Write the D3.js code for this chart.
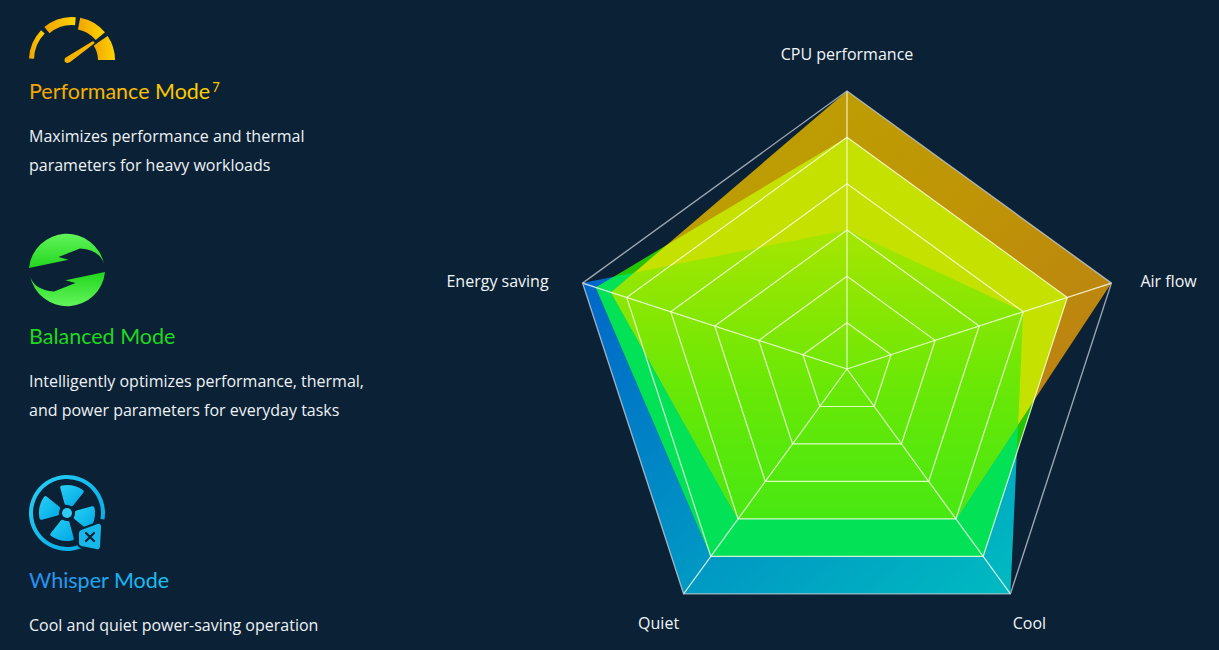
<!DOCTYPE html>
<html>
<head>
<meta charset="utf-8">
<script src="https://cdn.jsdelivr.net/npm/d3@7"></script>
<style>
  html, body { margin: 0; padding: 0; background: #0b2135; }
  svg { display: block; }
</style>
</head>
<body>
<div id="chart"></div>
<script>
// Radar axes, clockwise from the top
const AXES = ['CPU performance', 'Air flow', 'Cool', 'Quiet', 'Energy saving'];
// Grid levels (6 rings)
const LEVELS = [1, 2, 3, 4, 5, 6];
const MAX_LEVEL = 6;

// Series values, in grid levels (0..6), same order as AXES
const PERFORMANCE = [6, 6, 4, 4, 5.35];
const BALANCED    = [5, 5, 5, 5, 5.7];
const WHISPER     = [3, 4, 6, 6, 6];

// Left-hand mode descriptions
const MODE_NAMES = ['Performance Mode', 'Balanced Mode', 'Whisper Mode'];
const MODE_SUPS  = ['7', '', ''];
const MODE_LINES = [
  ['Maximizes performance and thermal', 'parameters for heavy workloads'],
  ['Intelligently optimizes performance, thermal,', 'and power parameters for everyday tasks'],
  ['Cool and quiet power-saving operation'],
];

const W = 1219, H = 650;
const FONT = '"Open Sans", "Noto Sans", sans-serif';
const TITLE_FONT = 'Lato, "Open Sans", sans-serif';

const svg = d3.select('#chart').append('svg')
  .attr('width', W).attr('height', H)
  .attr('viewBox', `0 0 ${W} ${H}`);

svg.append('rect').attr('width', W).attr('height', H).attr('fill', '#0b2135');

const defs = svg.append('defs');

function linearGrad(id, stops, x1, y1, x2, y2) {
  const gr = defs.append('linearGradient').attr('id', id)
    .attr('x1', x1).attr('y1', y1).attr('x2', x2).attr('y2', y2);
  stops.forEach(([o, c]) => gr.append('stop').attr('offset', o).attr('stop-color', c));
}

linearGrad('grad-whisper', [[0, '#005fc9'], [0.55, '#0094c4'], [1, '#00bcc0']], 0, 0, 1, 1);
linearGrad('grad-perf', [[0, '#bca400'], [0.5, '#bf9406'], [1, '#b9761a']], 0, 0, 1, 1);
linearGrad('grad-lime', [[0, '#c2e200'], [0.35, '#a2e600'], [0.7, '#68e806'], [1, '#48e812']], 0, 0, 0, 1);
linearGrad('grad-gold-text', [[0, '#f0a400'], [1, '#ffd400']], 0, 0, 1, 0);
linearGrad('grad-green-icon', [[0, '#62f45a'], [1, '#22d61e']], 0, 0, 0, 1);
linearGrad('grad-blue-text', [[0, '#2b8cf0'], [1, '#14c4f2']], 0, 0, 1, 0);
linearGrad('grad-cyan-icon', [[0, '#28d0f4'], [1, '#00a6e6']], 0, 0, 1, 1);

/* ================================================================== */
/*  Radar chart                                                        */
/* ================================================================== */

const cx = 847, cy = 369, R = 278;

const r = d3.scaleLinear().domain([0, MAX_LEVEL]).range([0, R]);
const angle = d3.scaleLinear().domain([0, AXES.length]).range([0, 2 * Math.PI]);

const radial = d3.lineRadial()
  .angle((_, i) => angle(i))
  .radius(d => r(d))
  .curve(d3.curveLinearClosed);

const perfPath = radial(PERFORMANCE);
const balPath  = radial(BALANCED);
const whisPath = radial(WHISPER);

defs.append('clipPath').attr('id', 'clip-balanced').append('path').attr('d', balPath);
defs.append('clipPath').attr('id', 'clip-whisper').append('path').attr('d', whisPath);

const g = svg.append('g').attr('transform', `translate(${cx},${cy})`);

// Whisper (bottom layer)
g.append('path').attr('d', whisPath).attr('fill', 'url(#grad-whisper)');

// Balanced, and where it overlays Whisper
g.append('path').attr('d', balPath).attr('fill', '#24c402');
g.append('g').attr('clip-path', 'url(#clip-whisper)')
  .append('path').attr('d', balPath).attr('fill', '#03e257');

// Performance, and its overlaps
g.append('path').attr('d', perfPath).attr('fill', 'url(#grad-perf)');
const overBal = g.append('g').attr('clip-path', 'url(#clip-balanced)');
overBal.append('path').attr('d', perfPath).attr('fill', '#c4e100');
overBal.append('g').attr('clip-path', 'url(#clip-whisper)')
  .append('path').attr('d', perfPath).attr('fill', 'url(#grad-lime)');

// Inner grid rings
LEVELS.filter(l => l < MAX_LEVEL).forEach(l => {
  g.append('path')
    .attr('d', radial(AXES.map(() => l)))
    .attr('fill', 'none')
    .attr('stroke', 'rgba(250,255,235,0.82)')
    .attr('stroke-width', 1.2);
});

// Spokes
AXES.forEach((_, i) => {
  const [x, y] = d3.pointRadial(angle(i), r(MAX_LEVEL));
  g.append('line')
    .attr('x1', 0).attr('y1', 0).attr('x2', x).attr('y2', y)
    .attr('stroke', 'rgba(250,255,235,0.82)')
    .attr('stroke-width', 1.2);
});

// Outer ring
g.append('path')
  .attr('d', radial(AXES.map(() => MAX_LEVEL)))
  .attr('fill', 'none')
  .attr('stroke', 'rgba(190,200,210,0.8)')
  .attr('stroke-width', 1.4);

// Axis labels
const LABEL_OFFSETS = [
  { dx: 0, dy: -37, anchor: 'middle' },
  { dx: 29, dy: -2, anchor: 'start' },
  { dx: 19, dy: 29, anchor: 'middle' },
  { dx: -25, dy: 29, anchor: 'middle' },
  { dx: -34, dy: -2, anchor: 'end' },
];

AXES.forEach((name, i) => {
  const [x, y] = d3.pointRadial(angle(i), r(MAX_LEVEL));
  const o = LABEL_OFFSETS[i];
  g.append('text')
    .attr('x', x + o.dx).attr('y', y + o.dy)
    .attr('dy', '0.35em')
    .attr('text-anchor', o.anchor)
    .attr('font-family', FONT).attr('font-size', 16)
    .attr('fill', '#f2f5f7')
    .text(name);
});

/* ================================================================== */
/*  Left column: icons, titles, descriptions                           */
/* ================================================================== */

const TITLE_Y = [99, 344, 588];
const TITLE_FILL = ['url(#grad-gold-text)', '#1fd81f', 'url(#grad-blue-text)'];

MODE_NAMES.forEach((name, i) => {
  const t = svg.append('text')
    .attr('x', 29).attr('y', TITLE_Y[i])
    .attr('font-family', TITLE_FONT).attr('font-size', 21.5)
    .attr('font-weight', 'normal')
    .attr('fill', TITLE_FILL[i]);
  t.append('tspan').text(name);
  if (MODE_SUPS[i]) {
    t.append('tspan').attr('dx', 2).attr('dy', -7).attr('font-size', 13).attr('fill', '#ffcc00').text(MODE_SUPS[i]);
  }
  MODE_LINES[i].forEach((line, j) => {
    svg.append('text')
      .attr('x', 29).attr('y', TITLE_Y[i] + 43 + j * 29)
      .attr('font-family', FONT).attr('font-size', 16)
      .attr('fill', '#eef2f5')
      .text(line);
  });
});

// Performance icon: gauge
const deg = d => d * Math.PI / 180;
const gauge = svg.append('g').attr('transform', 'translate(72,60)');
const GAUGE_SEGS = [
  { a0: -88, a1: -46, t: 5 },
  { a0: -40, a1: 5, t: 8 },
  { a0: 11, a1: 50, t: 12 },
  { a0: 56, a1: 90, t: 17 },
];
GAUGE_SEGS.forEach(s => {
  gauge.append('path')
    .attr('d', d3.arc()({ innerRadius: 43 - s.t, outerRadius: 43, startAngle: deg(s.a0), endAngle: deg(s.a1) }))
    .attr('fill', 'url(#grad-gold-text)');
});
// needle
gauge.append('path')
  .attr('d', 'M-7,-3 L21,-20 L24,-17 L-2,3 Q-6,5 -8,2 Q-9,-1 -7,-3 Z')
  .attr('fill', '#f6b400')
  .attr('stroke', '#0b2135').attr('stroke-width', 1.5);

// Balanced icon: two hooked swooshes, point-symmetric
const bal = svg.append('g').attr('transform', 'translate(67,270)');
const swoosh = 'M-38,-2 A38,38 0 0 1 37,-6 Q33,-20 13,-21.5 L-8.5,-13 L1.5,-10.3 Z';
bal.append('path').attr('d', swoosh).attr('fill', 'url(#grad-green-icon)');
bal.append('path').attr('d', swoosh).attr('transform', 'rotate(180)').attr('fill', 'url(#grad-green-icon)');

// Whisper icon: fan with ring and muted speaker
const fan = svg.append('g').attr('transform', 'translate(67,513)');
fan.append('path')
  .attr('d', d3.arc()({ innerRadius: 34, outerRadius: 38, startAngle: deg(150), endAngle: deg(460) }))
  .attr('fill', 'url(#grad-cyan-icon)');
[12, 102, 192, 282].forEach(a => {
  fan.append('path')
    .attr('d', d3.arc().cornerRadius(2)({ innerRadius: 8, outerRadius: 28, startAngle: deg(a - 27), endAngle: deg(a + 27) }))
    .attr('fill', 'url(#grad-cyan-icon)');
});
fan.append('circle').attr('r', 5).attr('fill', '#2ccdf2');
// speaker box
fan.append('path')
  .attr('d', 'M14,16 L30,10 Q35,9 35,14 L34,34 Q33,38 29,37 L14,34 Q11,33 11,30 L11,20 Q11,17 14,16 Z')
  .attr('fill', '#16b8ea')
  .attr('stroke', '#0b2135').attr('stroke-width', 2);
fan.append('path')
  .attr('d', 'M19,20 L27,28 M27,20 L19,28')
  .attr('stroke', '#0b2135').attr('stroke-width', 2.2).attr('stroke-linecap', 'round');
</script>
</body>
</html>
